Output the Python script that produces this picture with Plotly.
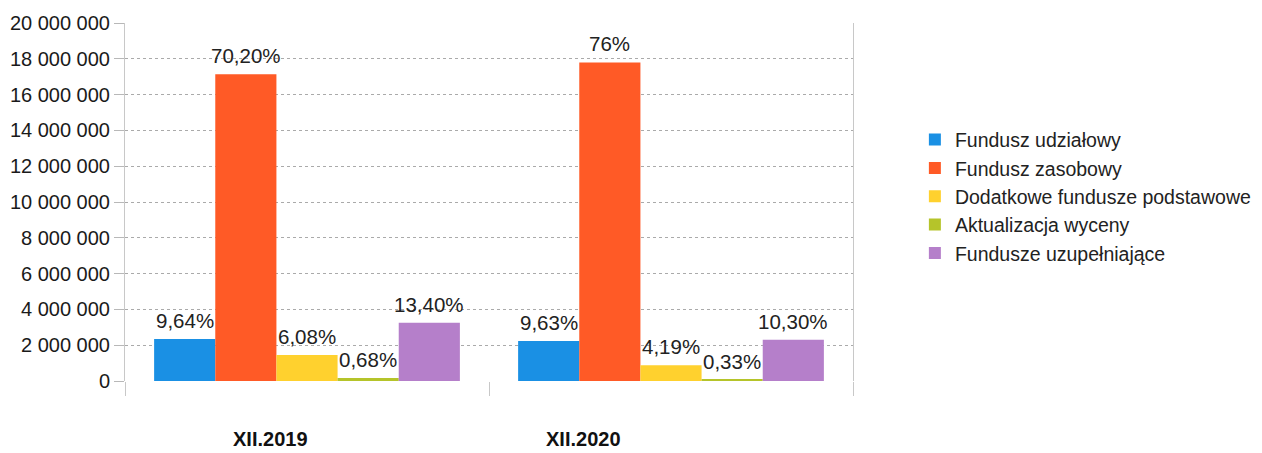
import plotly.graph_objects as go

categories = ["XII.2019", "XII.2020"]
series_names = ["Fundusz udziałowy", "Fundusz zasobowy", "Dodatkowe fundusze podstawowe",
                "Aktualizacja wyceny", "Fundusze uzupełniające"]
values = [
    [2350000, 2230000],
    [17130000, 17800000],
    [1450000, 880000],
    [170000, 80000],
    [3250000, 2300000],
]
labels = [
    ["9,64%", "9,63%"],
    ["70,20%", "76%"],
    ["6,08%", "4,19%"],
    ["0,68%", "0,33%"],
    ["13,40%", "10,30%"],
]
colors = ["#1a90e4", "#ff5a26", "#ffd12e", "#b5c42a", "#b57fca"]
y_ticks = list(range(0, 20000001, 2000000))
y_tick_text = [f"{v:,}".replace(",", " ") for v in y_ticks]
cat_label_shift = [-37, -88]

bargap = 0.16
n = len(series_names)
bar_w = (1 - bargap) / n

fig = go.Figure()
for name, vals, col in zip(series_names, values, colors):
    fig.add_trace(go.Bar(
        name=name, x=categories, y=vals,
        marker=dict(color=col, line=dict(width=0)),
    ))

annotations = []
for j, (vals, labs) in enumerate(zip(values, labels)):
    for i, (v, t) in enumerate(zip(vals, labs)):
        annotations.append(dict(
            x=i + (j - (n - 1) / 2) * bar_w, y=v, xref="x", yref="y",
            text=t, showarrow=False, yanchor="bottom", yshift=5,
            font=dict(size=20.5, color="#222222", family="Liberation Sans, Arial"),
        ))
for i, (c, s) in enumerate(zip(categories, cat_label_shift)):
    annotations.append(dict(
        x=i, y=0, xref="x", yref="paper", text=f"<b>{c}</b>", showarrow=False,
        yanchor="middle", yshift=-58, xshift=s,
        font=dict(size=20, color="#111111", family="Liberation Sans, Arial"),
    ))

fig.update_layout(
    width=1262, height=453,
    margin=dict(l=125, r=409, t=23, b=72, autoexpand=False),
    barmode="group", bargap=bargap, bargroupgap=0,
    plot_bgcolor="white", paper_bgcolor="white",
    font=dict(family="Liberation Sans, Arial", color="#222222"),
    showlegend=True,
    legend=dict(x=1.085, xanchor="left", y=0.728, yanchor="top",
                font=dict(size=19.5, color="#222222"), tracegroupgap=0,
                itemwidth=30, bgcolor="rgba(0,0,0,0)"),
    annotations=annotations,
)
fig.update_yaxes(
    range=[0, 20000000], tickvals=y_ticks, ticktext=y_tick_text,
    showgrid=True, gridcolor="#aaaaaa", griddash="dot", gridwidth=1,
    ticks="outside", ticklen=10, tickcolor="#b8b8b8",
    tickfont=dict(size=20, color="#1a1a1a"),
    showline=True, linecolor="#c8c8c8", linewidth=1, mirror=True,
    zeroline=False,
)
fig.update_xaxes(
    showline=False, ticks="outside", tickson="boundaries", ticklen=14,
    tickcolor="#c8c8c8", showgrid=False, showticklabels=False,
)

fig.write_html("out.html")
